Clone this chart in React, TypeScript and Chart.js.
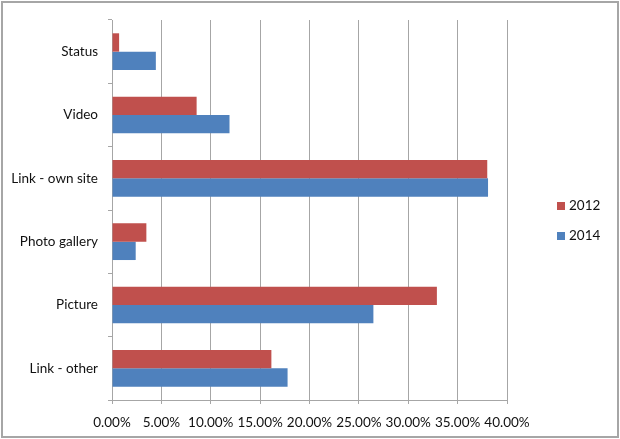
import React, { useEffect, useRef } from "react";
import { Chart, registerables } from "chart.js";

Chart.register(...registerables);

const categories = ["Status", "Video", "Link - own site", "Photo gallery", "Picture", "Link - other"];
const seriesLabels = ["2012", "2014"];
const values2012 = [0.72, 8.57, 38.0, 3.48, 32.9, 16.14];
const values2014 = [4.44, 11.9, 38.08, 2.4, 26.47, 17.78];
const xMin = 0;
const xMax = 40;
const xStep = 5;

const RED = "#C0504D";
const BLUE = "#4F81BD";
const FONT = "Lato";

const framePlugin = {
  id: "frame",
  beforeDraw(chart: any) {
    const ctx = chart.ctx;
    ctx.save();
    ctx.fillStyle = "#ffffff";
    ctx.fillRect(0, 0, chart.width, chart.height);
    ctx.restore();
  },
  afterDraw(chart: any) {
    const ctx = chart.ctx;
    ctx.save();
    ctx.strokeStyle = "#a6a6a6";
    ctx.lineWidth = 2;
    ctx.strokeRect(2, 2, chart.width - 4, chart.height - 4);
    // custom legend
    const ds = chart.data.datasets;
    ctx.font = `13.5px ${FONT}`;
    ctx.textBaseline = "middle";
    ctx.textAlign = "left";
    ds.forEach((d: any, i: number) => {
      const y = 206 + i * 30;
      ctx.fillStyle = d.backgroundColor;
      ctx.fillRect(557, y - 4, 8, 8);
      ctx.fillStyle = "#111";
      ctx.fillText(d.label, 569, y);
    });
    ctx.restore();
  },
};

export default function App() {
  const ref = useRef<HTMLCanvasElement | null>(null);
  useEffect(() => {
    document.body.style.margin = "0";
    const chart = new Chart(ref.current!, {
      type: "bar",
      data: {
        labels: categories,
        datasets: [
          { label: seriesLabels[0], data: values2012, backgroundColor: RED, borderWidth: 0 },
          { label: seriesLabels[1], data: values2014, backgroundColor: BLUE, borderWidth: 0 },
        ],
      },
      options: {
        indexAxis: "y",
        responsive: false,
        animation: false,
        devicePixelRatio: 1,
        categoryPercentage: 0.58,
        barPercentage: 1.0,
        layout: { padding: { left: 8, right: 113, top: 20, bottom: 0 } },
        plugins: { legend: { display: false }, tooltip: { enabled: false } },
        scales: {
          x: {
            min: xMin,
            max: xMax,
            ticks: {
              stepSize: xStep,
              autoSkip: false,
              callback: (v: any) => Number(v).toFixed(2) + "%",
              color: "#111",
              font: { family: FONT, size: 13.5 },
              padding: 11,
              maxRotation: 0,
            },
            grid: { color: "#a6a6a6", lineWidth: 1, tickLength: 4, drawTicks: true },
            border: { display: true, color: "#a6a6a6", width: 1 },
            afterFit: (s: any) => {
              s.height = 39;
            },
          },
          y: {
            ticks: {
              color: "#111",
              font: { family: FONT, size: 13.5 },
              padding: 10,
            },
            grid: { offset: true, drawOnChartArea: false, tickLength: 4, color: "#a6a6a6" },
            border: { display: true, color: "#a6a6a6", width: 1 },
            afterFit: (s: any) => {
              s.width = 104;
            },
          },
        },
      },
      plugins: [framePlugin],
    });
    return () => chart.destroy();
  }, []);
  return (
    <div style={{ position: "absolute", left: 0, top: 0, width: 620, height: 439 }}>
      <canvas ref={ref} width={620} height={439} style={{ display: "block" }} />
    </div>
  );
}
